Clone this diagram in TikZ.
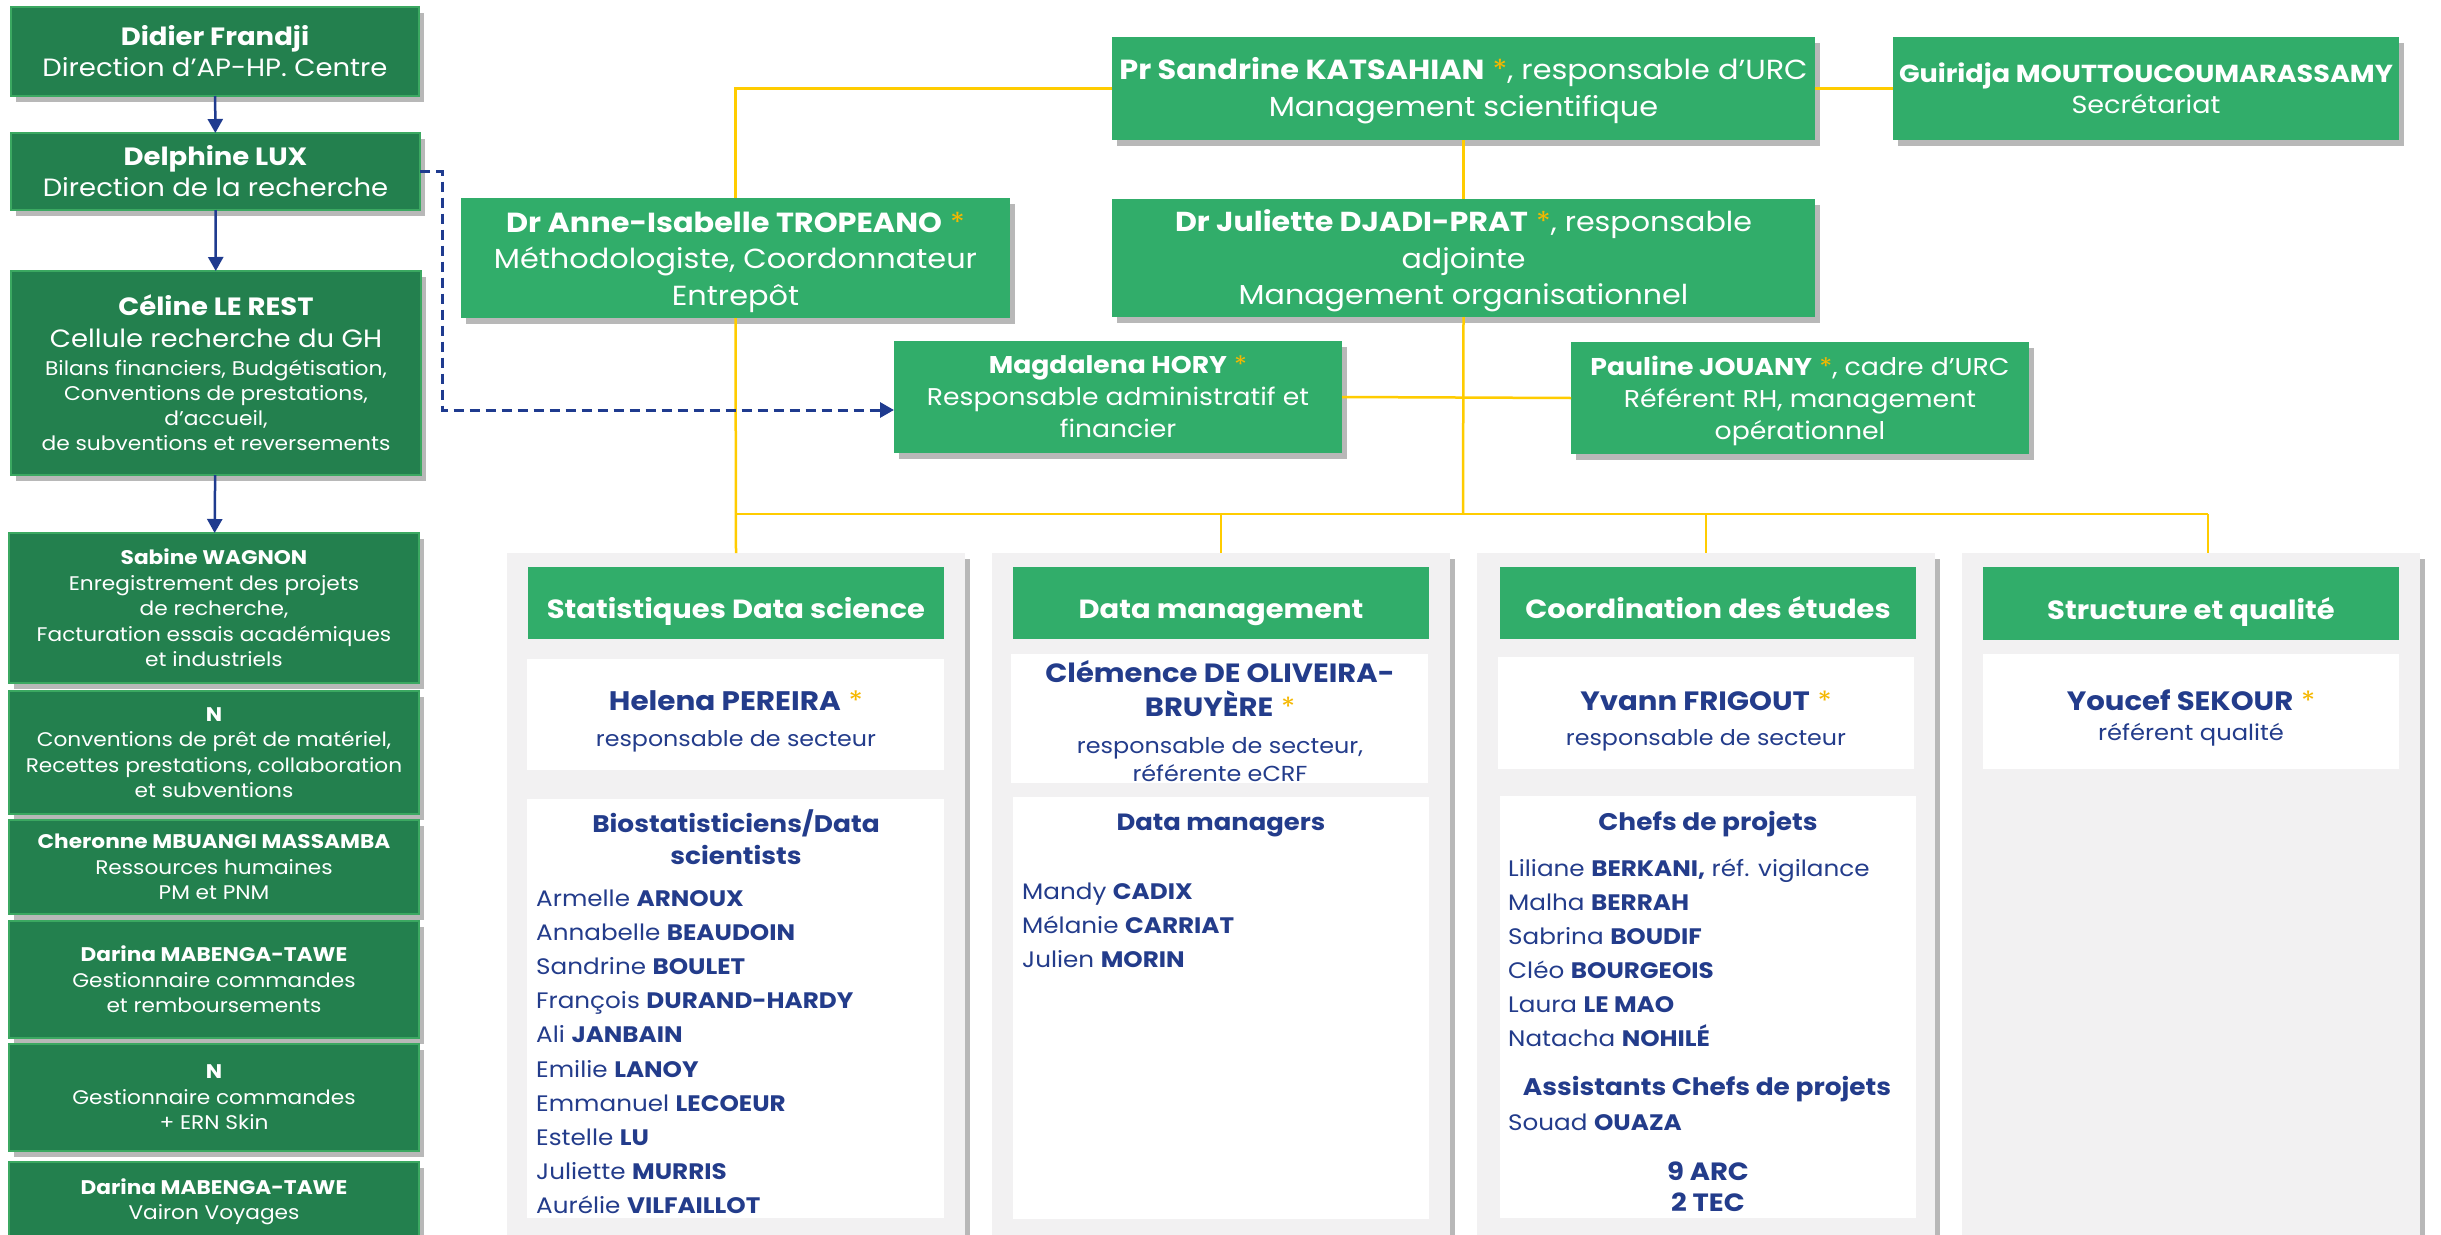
\documentclass[tikz,border=0pt]{standalone}
\usepackage{fontspec}
\setmainfont{Poppins}[FakeStretch=1.1]
\usetikzlibrary{shadows,arrows.meta}
\definecolor{lgreen}{HTML}{23804E}
\definecolor{ledge}{HTML}{3BA861}
\definecolor{mgreen}{HTML}{31AD6A}
\definecolor{navy}{HTML}{1F3B8F}
\definecolor{tnavy}{HTML}{233C8B}
\definecolor{gold}{HTML}{FFCC00}
\definecolor{starc}{HTML}{F5B800}
\definecolor{pgrey}{HTML}{F2F1F2}
\newcommand{\st}{{\color{starc}*}}
\newcommand{\fs}[2]{\fontsize{#1}{#2}\selectfont}
\newcommand{\ctext}[2]{\parbox{#1}{\centering #2\par}}
\newcommand{\ttext}[2]{\parbox[t]{#1}{\centering #2\par}}
\newcommand{\ltxt}[2]{\parbox[t]{#1}{\raggedright #2\par}}
\begin{document}
\begin{tikzpicture}[x=1pt,y=-1pt,
  shd/.style={drop shadow={shadow xshift=5pt,shadow yshift=-6pt,opacity=0.28,fill=black}},
  wh/.style 2 args={minimum width=#1pt,minimum height=#2pt},
  nw/.style={inner sep=0pt,outer sep=0pt,anchor=north west},
  lbox/.style={nw,shd,fill=lgreen,draw=ledge,line width=1.2pt,text=white},
  gbox/.style={nw,shd,fill=mgreen,text=white},
  panel/.style={nw,shd,fill=pgrey},
  hbox/.style={nw,fill=mgreen,text=white,text height=35pt,text depth=4pt,font=\fontsize{26.3}{30}\selectfont\bfseries},
  wbox/.style={nw,fill=white},
  ntext/.style={inner sep=0pt,text=tnavy,anchor=base},
  ltext/.style={inner sep=0pt,text=tnavy,anchor=base west},
  yl/.style={draw=gold,line width=2.5pt},
  arr/.style={draw=navy,line width=2.5pt,-{Triangle[length=14pt,width=15pt]}},
  dsh/.style={draw=navy,line width=3pt,dash pattern=on 10pt off 6pt,-{Triangle[length=14pt,width=15pt]}},
]
\useasboundingbox (0,0) rectangle (2441,1234);
\clip (0,0) rectangle (2441,1234);
\fill[white] (0,0) rectangle (2441,1234);

% ---------- left column ----------
\node[lbox,wh={408}{89}] (did) at (11,7) {\ctext{404pt}{\fs{25}{31}\textbf{Didier Frandji}\\Direction d’AP-HP. Centre}};
\node[lbox,wh={409}{77}] (del) at (11,133) {\ctext{404pt}{\fs{25}{31}\textbf{Delphine LUX}\\Direction de la recherche}};
\node[lbox,wh={410}{204}] (cel) at (11,271) {\ctext{404pt}{\fs{25}{32}\textbf{Céline LE REST}\\Cellule recherche du GH\par\vspace{3pt}\fs{19.8}{25}Bilans financiers, Budgétisation,\\Conventions de prestations,\\d’accueil,\\de subventions et reversements}};
\node[lbox,wh={410}{150}] (sab) at (9,533) {\ctext{406pt}{\fs{19.7}{25.5}\textbf{Sabine WAGNON}\\Enregistrement des projets\\de recherche,\\Facturation essais académiques\\et industriels}};
\node[lbox,wh={410}{123}] (n1) at (9,691) {\ctext{406pt}{\fs{19.7}{25.5}\textbf{N}\\Conventions de prêt de matériel,\\Recettes prestations, collaboration\\et subventions}};
\node[lbox,wh={410}{94}] (che) at (9,820) {\ctext{406pt}{\fs{19.7}{25.5}\textbf{Cheronne MBUANGI MASSAMBA}\\Ressources humaines\\PM et PNM}};
\node[lbox,wh={410}{117}] (dar) at (9,921) {\ctext{406pt}{\fs{19.7}{25.5}\textbf{Darina MABENGA-TAWE}\\Gestionnaire commandes\\et remboursements}};
\node[lbox,wh={410}{107}] (n2) at (9,1044) {\ctext{406pt}{\fs{19.7}{25.5}\textbf{N}\\Gestionnaire commandes\\+ ERN Skin}};
\node[lbox,wh={410}{80}] (dar2) at (9,1162) {\ctext{406pt}{\fs{19.7}{25.5}\textbf{Darina MABENGA-TAWE}\\Vairon Voyages}};

\draw[arr] (did) -- (del);
\draw[arr] (del) -- (cel);
\draw[arr] (cel) -- (sab);

% ---------- top management ----------
\node[gbox,wh={703}{103}] (san) at (1112,37) {\ctext{700pt}{\vspace*{4.5pt}\fs{27.6}{37.5}\textbf{Pr Sandrine KATSAHIAN} \st, responsable d’URC\\Management scientifique}};
\node[gbox,wh={506}{103}] (gui) at (1893,37) {\ctext{504pt}{\fs{24.6}{31}\textbf{Guiridja MOUTTOUCOUMARASSAMY}\\Secrétariat}};
\node[gbox,wh={549}{120}] (tro) at (461,198) {\ctext{545pt}{\vspace*{8pt}\fs{27.6}{36.5}\textbf{Dr Anne-Isabelle TROPEANO} \st\\Méthodologiste, Coordonnateur\\Entrepôt}};
\node[gbox,wh={703}{118}] (jul) at (1112,199) {\ctext{700pt}{\vspace*{6pt}\fs{27.4}{36.5}\textbf{Dr Juliette DJADI-PRAT} \st, responsable\\adjointe\\Management organisationnel}};
\node[gbox,wh={448}{112}] (mag) at (894,341) {\ctext{445pt}{\fs{24.2}{32}\textbf{Magdalena HORY} \st\\Responsable administratif et\\financier}};
\node[gbox,wh={458}{112}] (pau) at (1571,342) {\ctext{455pt}{\vspace*{6pt}\fs{24.3}{32}\textbf{Pauline JOUANY} \st, cadre d’URC\\Référent RH, management\\opérationnel}};

% ---------- panels ----------
\node[panel,wh={458}{720}] (p1) at (507,553) {};
\node[panel,wh={458}{720}] (p2) at (992,553) {};
\node[panel,wh={458}{720}] (p3) at (1477,553) {};
\node[panel,wh={458}{720}] (p4) at (1962,553) {};

\node[hbox,wh={416}{72}] (h1) at (528,567) {Statistiques Data science};
\node[hbox,wh={416}{72}] (h2) at (1013,567) {Data management};
\node[hbox,wh={416}{72}] (h3) at (1500,567) {Coordination des études};
\node[hbox,wh={416}{73}] (h4) at (1983,567) {Structure et qualité};

\node[wbox,wh={417}{111}] (w1a) at (527,659) {};
\node[wbox,wh={417}{419}] (w1b) at (527,799) {};
\node[wbox,wh={417}{129}] (w2a) at (1011,654) {};
\node[wbox,wh={416}{422}] (w2b) at (1013,797) {};
\node[wbox,wh={416}{112}] (w3a) at (1498,657) {};
\node[wbox,wh={416}{422}] (w3b) at (1500,796) {};
\node[wbox,wh={416}{115}] (w4a) at (1983,654) {};

% panel 1 texts
\node[ntext] (hel) at (736,710) {\ttext{410pt}{\fs{26.8}{36}\textbf{Helena PEREIRA} \st\par\fs{21.6}{36}responsable de secteur}};
\node[ntext] (bio) at (736,832) {\ttext{410pt}{\fs{24}{32}\bfseries Biostatisticiens/Data\\scientists}};
\node[ltext] (l1) at (536,906) {\ltxt{400pt}{\fs{22.4}{34.2}Armelle \textbf{ARNOUX}\\Annabelle \textbf{BEAUDOIN}\\Sandrine \textbf{BOULET}\\François \textbf{DURAND-HARDY}\\Ali \textbf{JANBAIN}\\Emilie \textbf{LANOY}\\Emmanuel \textbf{LECOEUR}\\Estelle \textbf{LU}\\Juliette \textbf{MURRIS}\\Aurélie \textbf{VILFAILLOT}}};

% panel 2 texts
\begin{scope}
\clip (w2a.north west) rectangle (w2a.south east);
\node[ntext] (cle) at (1220,682) {\ttext{415pt}{\fs{26.4}{34}\textbf{Clémence DE OLIVEIRA-}\\\textbf{BRUYÈRE} \st\par\vspace{9pt}\fs{21.7}{28}responsable de secteur,\\référente eCRF}};
\end{scope}
\node[ntext] (dm) at (1221,830) {\fs{23.5}{32}\bfseries Data managers};
\node[ltext] (l2) at (1022,899.5) {\ltxt{400pt}{\fs{22.4}{34}Mandy \textbf{CADIX}\\Mélanie \textbf{CARRIAT}\\Julien \textbf{MORIN}}};

% panel 3 texts
\node[ntext] (yva) at (1706,710) {\ttext{410pt}{\fs{26.5}{35}\textbf{Yvann FRIGOUT} \st\par\fs{21.6}{35}responsable de secteur}};
\node[ntext] (cp) at (1708,830) {\fs{24}{32}\bfseries Chefs de projets};
\node[ltext] (l3) at (1508,876) {\ltxt{405pt}{\fs{22.4}{34}Liliane \textbf{BERKANI,} réf. vigilance\\Malha \textbf{BERRAH}\\Sabrina \textbf{BOUDIF}\\Cléo \textbf{BOURGEOIS}\\Laura \textbf{LE MAO}\\Natacha \textbf{NOHILÉ}}};
\node[ntext] (acp) at (1707,1095) {\fs{24}{32}\bfseries Assistants Chefs de projets};
\node[ltext] (l4) at (1508,1130) {\fs{22.4}{34}Souad \textbf{OUAZA}};
\node[ntext] (arc) at (1708,1180) {\ttext{300pt}{\fs{25}{31}\bfseries 9 ARC\\2 TEC}};

% panel 4 texts
\node[ntext] (you) at (2191,710) {\ttext{410pt}{\fs{26.5}{30}\textbf{Youcef SEKOUR} \st\par\fs{22}{30}référent qualité}};

% ---------- connectors ----------
\draw[yl] (san.west) -| (tro.north);
\draw[yl] (san.east) -- (gui.west);
\draw[yl] (san.south) -- (jul.north);
\draw[yl] (mag.east) -- (pau.west);
\draw[yl] (tro.south) -- (p1.north);
\coordinate (bus) at (1463,514);
\coordinate (p4top) at (2208,553);
\draw[yl] (jul.south) -- (bus);
\draw[yl] (p1.north |- bus) -- (p4top |- bus);
\draw[yl] (p2.north |- bus) -- (p2.north);
\draw[yl] (p3.north |- bus) -- (p3.north);
\draw[yl] (p4top |- bus) -- (p4top);
\draw[dsh] (del.east) -- ++(22,0) |- ([yshift=-13pt]mag.west);
\end{tikzpicture}
\end{document}
